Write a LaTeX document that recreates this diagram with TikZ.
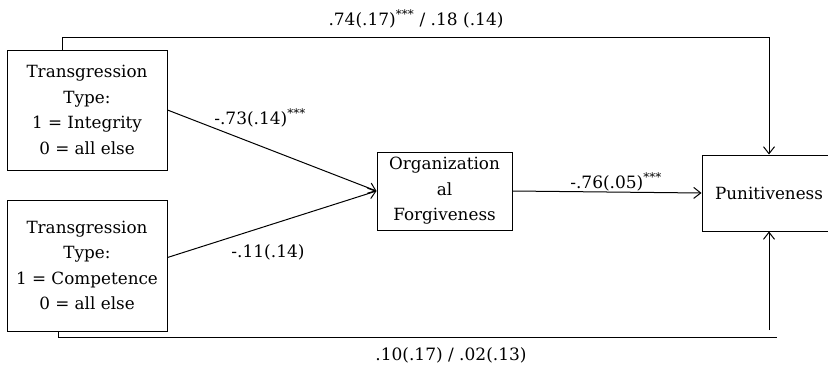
\documentclass[tikz,border=0pt]{standalone}
\usepackage{fontspec}
\setmainfont{DejaVu Serif}
\usetikzlibrary{arrows.meta,positioning}

\begin{document}
\begin{tikzpicture}[x=1pt,y=-1pt,
  box/.style={draw,line width=1pt,align=center,inner sep=0pt,
    font=\fontsize{16.8}{25.5}\selectfont},
  path/.style={line width=1pt,-{Straight Barb[length=7pt,width=11pt]}},
  coef/.style={inner sep=0pt,font=\fontsize{17}{19}\selectfont}]

\useasboundingbox (0,0) rectangle (828,367);

% boxes
\node[box,minimum width=160pt,minimum height=120pt] (integ) at (87,110)
  {Transgression\\Type:\\1 = Integrity\\0 = all else};
\node[box,minimum width=160pt,minimum height=131pt] (compet) at (87,265.5)
  {Transgression\\Type:\\1 = Competence\\0 = all else};
\node[box,minimum width=135pt,minimum height=78pt] (forgive) at (444.5,191)
  {Organization\\al\\Forgiveness};
\node[box,minimum width=134pt,minimum height=76pt] (punit) at (769,193)
  {Punitiveness};

% paths
\draw[path] (integ.east) -- (forgive.west);
\draw[path] ([yshift=8pt]compet.east) -- (forgive.west);
\draw[path] (forgive.east) -- (punit.west);

\coordinate (topl) at (62,37);
\draw[path] (integ.north -| topl) -- (topl) -| (punit.north);

\coordinate (botl) at (58,337);
\coordinate (botr) at (777,337);
\coordinate (botup) at (769,330);
\draw[line width=1pt] (compet.south -| botl) -- (botl) -- (botr);
\draw[path] (botup) -- (punit.south);

% coefficients
\node[coef] (ctop) at (416,19) {.74(.17)\textsuperscript{***} / .18 (.14)};
\node[coef] (cint) at (260,118) {-.73(.14)\textsuperscript{***}};
\node[coef] (ccomp) at (268,252) {-.11(.14)};
\node[coef] (cforg) at (616,182) {-.76(.05)\textsuperscript{***}};
\node[coef] (cbot) at (451,355) {.10(.17) / .02(.13)};
\end{tikzpicture}
\end{document}
